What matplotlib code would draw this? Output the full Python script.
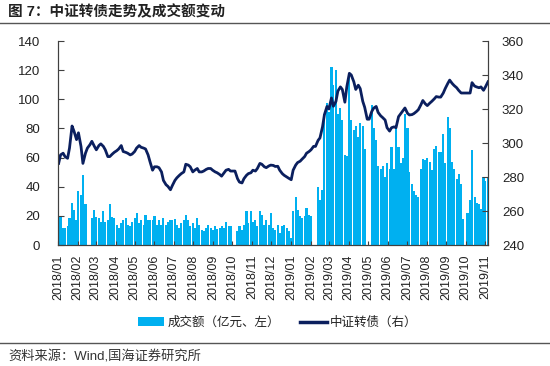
import numpy as np
import pandas as pd
import matplotlib
matplotlib.use('Agg')
import matplotlib.pyplot as plt
import matplotlib.dates as mdates
from matplotlib.lines import Line2D
from matplotlib.patches import Patch

plt.rcParams['font.family'] = ['Liberation Sans', 'Noto Sans CJK SC', 'DejaVu Sans']

# half-weekly observations (Tue / Fri), 2018/01 - 2019/11
tue = pd.date_range('2018-01-02', '2019-11-05', freq='W-TUE')
fri = pd.date_range('2018-01-05', '2019-11-01', freq='W-FRI')
dates = tue.append(fri).sort_values()

# 成交额 (亿元, left axis)
volume = [
    20, 19, 12, 11.5, 13, 18.5, 28.5, 24, 17, 37, 34.5, 48, 28, 0, 0, 18.5,
    24, 19, 18.5, 16, 23.5, 16, 17, 28, 19.5, 18.5, 14, 11.5, 15, 17, 18.5, 14,
    12.8, 16, 18.5, 22, 15, 17, 14, 20.8, 17, 17, 17, 19.7, 14, 17, 14, 18.5,
    14, 16, 17, 17, 18, 14, 11.7, 15, 17, 20.8, 17, 13, 15, 11.7, 18.5, 14,
    10.5, 9.4, 11.7, 14, 11.7, 10.5, 12.8, 11, 11.5, 12.8, 12, 16, 13, 12.8, 0, 0,
    9.4, 12.8, 10.5, 14, 23, 15, 23, 16, 17, 12.8, 23, 20.8, 14, 17, 14, 22,
    11.7, 10.5, 14, 8.2, 12.8, 13.5, 11.7, 9.4, 5, 23, 33, 24, 19.7, 18.5, 20, 25.4,
    20.8, 19.7, 0, 0, 40, 31, 38, 90, 97.5, 91, 122, 110, 120, 90, 94, 86,
    62, 61, 118, 86, 79, 82, 74, 84, 82, 66, 0, 0, 96, 80, 72, 54,
    52, 54, 47, 56, 52, 67, 52, 81, 67, 56, 60, 90, 80, 50, 42, 37,
    34, 33, 52, 59, 58, 60, 57, 51.5, 66, 68, 64, 64, 76, 56, 88, 80,
    57, 52, 45, 49, 42, 18, 0, 22, 31, 65, 33, 28.6, 28, 24.5, 47, 44,
    47,
]

# 中证转债 (right axis)
cb_index = [
    288, 293, 294, 292, 291, 297, 310, 307, 302, 306, 298, 288, 294, 297, 299, 301,
    298, 296, 298.5, 299.5, 298, 296, 292, 292, 293.5, 294.5, 295.5, 296.5, 298.5, 295, 294.5, 294,
    293, 293.5, 295, 297, 298.5, 297.5, 297, 296.5, 293, 289, 284, 286, 286, 285.5, 283, 278,
    275.5, 274.5, 272.5, 275, 278, 279.5, 281, 282, 283, 287.5, 287, 286, 283, 284, 285, 283,
    283, 283.5, 284.5, 285, 285, 284, 283, 282.5, 281.5, 280.5, 282.5, 284, 284.5, 283.5, 283.5, 283.5,
    279, 277, 276.5, 279, 281, 282, 282.5, 284, 283.5, 285, 288, 287.5, 286, 285.5, 286.5, 287,
    286.8, 286.2, 286.3, 284, 282, 281, 280, 279.3, 278.4, 284, 287, 288.5, 289.3, 290.5, 292, 294,
    295, 296, 298, 298, 301.5, 303, 309.5, 316.7, 321.5, 320, 326.5, 321.6, 324.5, 330.5, 333, 331.5,
    324, 333, 341, 340, 336, 331.5, 334, 332, 324.5, 321, 314, 314, 318.5, 320.5, 321.5, 318,
    316, 315, 313.5, 309, 307, 309, 309.5, 309, 315.5, 317, 319, 320.6, 317.5, 316.5, 316.7, 317.3,
    318.5, 319.6, 322.5, 325, 323, 322, 323.5, 324.5, 326, 327.3, 327, 327, 329.4, 332, 335, 337,
    335, 333.8, 332.5, 331, 329.4, 329.4, 329.4, 329.4, 329.4, 335.5, 333.5, 333, 332.5, 333, 331, 333,
    336,
]

bar_color = '#00B0F0'
line_color = '#0b1f5e'
txt = '#222222'

fig = plt.figure(figsize=(5.5, 3.66), dpi=100)
ax = fig.add_axes([58/550, 1-245/366, 430/550, 204/366])
ax.bar(dates, volume, width=3.3, color=bar_color, linewidth=0)
ax.set_ylim(0, 140)
ax.set_yticks(np.arange(0, 141, 20))
ax.set_xlim(pd.Timestamp('2018-01-01'), pd.Timestamp('2019-11-05'))
ax.xaxis.set_major_locator(mdates.MonthLocator())
ax.xaxis.set_major_formatter(mdates.DateFormatter('%Y/%m'))

ax2 = ax.twinx()
ax2.plot(dates, cb_index, color=line_color, lw=2.0)
ax2.set_ylim(240, 360)
ax2.set_yticks(np.arange(240, 361, 20))

for a in (ax, ax2):
    a.spines['top'].set_visible(False)
    for s in ('left', 'right', 'bottom'):
        a.spines[s].set_color('#404040')
        a.spines[s].set_linewidth(0.8)

ax.tick_params(axis='y', direction='in', length=4, pad=13, labelsize=9.5,
               colors='#404040', labelcolor=txt)
ax2.tick_params(axis='y', direction='in', length=4, pad=10, labelsize=9.5,
                colors='#404040', labelcolor=txt)
ax.tick_params(axis='x', direction='in', length=3, pad=7, labelsize=9,
               labelrotation=90, colors='#404040', labelcolor=txt)

handles = [Patch(facecolor=bar_color, edgecolor='none'),
           Line2D([], [], color=line_color, lw=2.5)]
labels = ['成交额（亿元、左）', '中证转债（右）']
fig.legend(handles, labels, loc='center', bbox_to_anchor=(0.505, 1-323/366),
           ncol=2, frameon=False, handlelength=2.1, handletextpad=0.3,
           columnspacing=1.6, fontsize=9, labelcolor=txt)

fig.text(8/550, 1-12/366, '图 7：中证转债走势及成交额变动', fontsize=10.5,
         fontweight='bold', va='center', ha='left', color=txt)
fig.add_artist(Line2D([0, 1], [1-22.7/366, 1-22.7/366], transform=fig.transFigure,
                      color='#555555', lw=1))
fig.add_artist(Line2D([0, 1], [1-343/366, 1-343/366], transform=fig.transFigure,
                      color='#555555', lw=1))
fig.text(8/550, 1-357/366, '资料来源：Wind,国海证券研究所', fontsize=9.5,
         va='center', ha='left', color='#333333')

fig.savefig('out.png', dpi=100)
